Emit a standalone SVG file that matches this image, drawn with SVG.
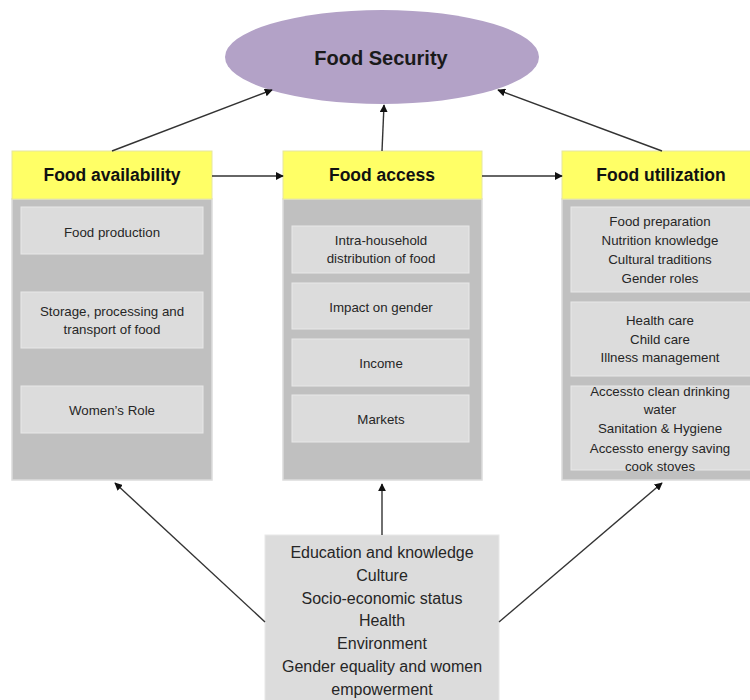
<svg xmlns="http://www.w3.org/2000/svg" width="750" height="700" viewBox="0 0 750 700">
<defs>
<marker id="ah" viewBox="0 0 10 10" refX="9" refY="5" markerWidth="8" markerHeight="8" markerUnits="userSpaceOnUse" orient="auto">
<path d="M0,0 L10,5 L0,10 z" fill="#111"/>
</marker>
<style>
text{font-family:"Liberation Sans",Arial,sans-serif;fill:#262626;text-anchor:middle;dominant-baseline:central}
.hdr{fill:#ffff66;stroke:#e6e6a0;stroke-width:1}
.body{fill:#c0c0c0;stroke:#dcdcdc;stroke-width:1.5}
.item{fill:#dcdcdc;stroke:#e8e8e8;stroke-width:1}
.ht{font-size:17.5px;font-weight:bold;fill:#111}
.it{font-size:13.3px}
.bt{font-size:16px}
.conn{stroke:#333;stroke-width:1.4;fill:none;marker-end:url(#ah)}
</style>
</defs>
<rect width="750" height="700" fill="#fff"/>

<g id="food-security">
<ellipse cx="382" cy="57" rx="157" ry="47" fill="#b3a2c7"/>
<text x="381" y="58" style="font-size:20px;font-weight:bold;fill:#1a1a1a">Food Security</text>
</g>

<g id="food-availability">
<rect class="body" x="12" y="199" width="200" height="281"/>
<rect class="hdr" x="12" y="151" width="200" height="48"/>
<text class="ht" x="112" y="175">Food availability</text>
<rect class="item" x="21" y="207" width="182" height="47"/>
<text class="it" x="112" y="232">Food production</text>
<rect class="item" x="21" y="292" width="182" height="56"/>
<text class="it" x="112" y="311">Storage, processing and</text>
<text class="it" x="112" y="329">transport of food</text>
<rect class="item" x="21" y="386" width="182" height="47"/>
<text class="it" x="112" y="410">Women’s Role</text>
</g>

<g id="food-access">
<rect class="body" x="283" y="199" width="199" height="281"/>
<rect class="hdr" x="283" y="151" width="199" height="48"/>
<text class="ht" x="382" y="175">Food access</text>
<rect class="item" x="292" y="226" width="177" height="47"/>
<text class="it" x="381" y="240">Intra-household</text>
<text class="it" x="381" y="258">distribution of food</text>
<rect class="item" x="292" y="283" width="177" height="46"/>
<text class="it" x="381" y="307">Impact on gender</text>
<rect class="item" x="292" y="339" width="177" height="47"/>
<text class="it" x="381" y="363">Income</text>
<rect class="item" x="292" y="395" width="177" height="47"/>
<text class="it" x="381" y="419">Markets</text>
</g>

<g id="food-utilization">
<rect class="body" x="562" y="199" width="192" height="281"/>
<rect class="hdr" x="562" y="151" width="192" height="48"/>
<text class="ht" x="661" y="175">Food utilization</text>
<rect class="item" x="571" y="207" width="185" height="85"/>
<text class="it" x="660" y="221">Food preparation</text>
<text class="it" x="660" y="240">Nutrition knowledge</text>
<text class="it" x="660" y="259">Cultural traditions</text>
<text class="it" x="660" y="278">Gender roles</text>
<rect class="item" x="571" y="302" width="185" height="74"/>
<text class="it" x="660" y="320">Health care</text>
<text class="it" x="660" y="339">Child care</text>
<text class="it" x="660" y="357">Illness management</text>
<rect class="item" x="571" y="386" width="185" height="84"/>
<text class="it" x="660" y="391">Accessto clean drinking</text>
<text class="it" x="660" y="409">water</text>
<text class="it" x="660" y="428">Sanitation &amp; Hygiene</text>
<text class="it" x="660" y="448">Accessto energy saving</text>
<text class="it" x="660" y="466">cook stoves</text>
</g>

<g id="factors">
<rect x="265" y="535" width="234" height="170" fill="#dcdcdc" stroke="#e8e8e8" stroke-width="1"/>
<text class="bt" x="382" y="552">Education and knowledge</text>
<text class="bt" x="382" y="575">Culture</text>
<text class="bt" x="382" y="598">Socio-economic status</text>
<text class="bt" x="382" y="620">Health</text>
<text class="bt" x="382" y="643">Environment</text>
<text class="bt" x="382" y="666">Gender equality and women</text>
<text class="bt" x="382" y="689">empowerment</text>
</g>

<g id="connectors">
<line class="conn" x1="112" y1="151" x2="272" y2="90"/>
<line class="conn" x1="382" y1="151" x2="384" y2="105"/>
<line class="conn" x1="662" y1="151" x2="498" y2="90"/>
<line class="conn" x1="212" y1="176" x2="283" y2="176"/>
<line class="conn" x1="482" y1="176" x2="562" y2="176"/>
<line class="conn" x1="265" y1="622" x2="115" y2="483"/>
<line class="conn" x1="382" y1="535" x2="382" y2="484"/>
<line class="conn" x1="499" y1="622" x2="662" y2="483"/>
</g>
</svg>
